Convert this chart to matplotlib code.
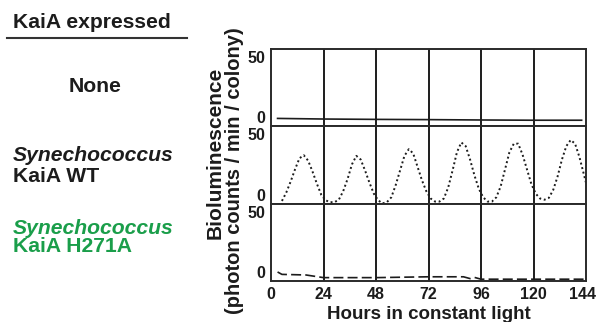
import numpy as np
import matplotlib
matplotlib.use("Agg")
import matplotlib.pyplot as plt
from matplotlib.transforms import ScaledTranslation

plt.rcParams['font.family'] = ['Liberation Sans', 'DejaVu Sans']
plt.rcParams['font.weight'] = 'bold'

# hours in constant light
hours_none = [3, 24, 48, 72, 96, 120, 142]
lum_none = [-1.2, -1.7, -2.0, -2.2, -2.5, -2.7, -2.7]

hours_wt = [5, 7, 9, 11, 13, 15, 17, 19, 21, 23, 25, 27, 29, 31, 33, 35, 37, 39,
            41, 43, 45, 47, 49, 51, 53, 55, 57, 59, 61, 63, 65, 67, 69, 71, 73,
            75, 77, 79, 81, 83, 85, 87, 89, 91, 93, 95, 97, 99, 101, 103, 105,
            107, 109, 111, 113, 115, 117, 119, 121, 123, 125, 127, 129, 131,
            133, 135, 137, 139, 141, 143, 144]
lum_wt = [-5, 2, 11, 21, 30, 32.5, 28, 19, 9, 0, -4.5, -6, -6, -4, 3, 13, 25, 32,
          29, 20, 10, 1, -4.5, -7, -6, -2, 8, 20, 32, 37.5, 34, 23, 12, 3, -3,
          -5.5, -5.5, -3, 6, 20, 35, 43, 40, 29, 16, 5, -2, -5.5, -5.5, -2, 7,
          21, 35, 42, 42, 33, 21, 9, 1, -3, -4, -2.5, 4, 15,
          29, 40, 45, 42, 31, 17, 10]

hours_h271a = [3, 5, 16, 24, 48, 72, 88, 91, 93, 96, 120, 143]
lum_h271a = [0.0, -2.0, -2.5, -4.7, -4.7, -4.0, -4.0, -5.5, -4.5, -6.0, -6.0, -6.0]

day_lines = [24, 48, 72, 96, 120]
x_ticks = [0, 24, 48, 72, 96, 120, 144]
y_ticks = [0, 50]

W, H = 597, 322
fig = plt.figure(figsize=(W / 100, H / 100), dpi=100)

ink = '#1c1c1c'
green = '#1a9e4a'

panels = [(49, 126), (126, 204), (204, 281)]
x0, x1 = 271, 586
axes = []
for top, bot in panels:
    ax = fig.add_axes([x0 / W, 1 - bot / H, (x1 - x0) / W, (bot - top) / H])
    ax.set_xlim(0, 144)
    ax.set_ylim(-7.5, 56.5)
    ax.set_yticks(y_ticks)
    ax.set_xticks(x_ticks)
    ax.tick_params(length=0, labelsize=11.5, pad=4, colors=ink)
    for s in ax.spines.values():
        s.set_linewidth(1.4)
        s.set_color('#2a2a2a')
    for d in day_lines:
        ax.axvline(d, color=ink, lw=1.4)
    axes.append(ax)

for ax in axes[:2]:
    ax.tick_params(labelbottom=False)

axes[0].plot(hours_none, lum_none, color=ink, lw=1.2)
axes[1].plot(hours_wt, lum_wt, color=ink, lw=1.4, linestyle=(0, (1, 1.4)))
axes[2].plot(hours_h271a, lum_h271a, color=ink, lw=1.2, linestyle=(0, (6, 2.5)))

for ax in axes:
    for lab in ax.get_xticklabels() + ax.get_yticklabels():
        lab.set_fontweight('bold')

# keep the last hour label inside the figure edge
last = axes[2].get_xticklabels()[-1]
last.set_transform(last.get_transform() + ScaledTranslation(-4 / 100, 0, fig.dpi_scale_trans))

axes[2].set_xlabel('Hours in constant light', fontsize=13.5, fontweight='bold',
                   color=ink, labelpad=3)

fig.text(215 / W, 1 - 153 / H, 'Bioluminescence', rotation=90, fontsize=15,
         fontweight='bold', color=ink, ha='center', va='center')
fig.text(235 / W, 1 - 171 / H, '(photon counts / min / colony)', rotation=90,
         fontsize=14.5, fontweight='bold', color=ink, ha='center', va='center')

# left-hand labels
fs = 15.2
fig.text(13 / W, 1 - 22 / H, 'KaiA expressed', fontsize=fs, fontweight='bold',
         color=ink, ha='left', va='center')
fig.add_artist(plt.Line2D([7 / W, 187 / W], [1 - 38 / H, 1 - 38 / H],
                          color='#333333', lw=1.5))
fig.text(95 / W, 1 - 87 / H, 'None', fontsize=fs, fontweight='bold',
         color=ink, ha='center', va='center')
fig.text(13 / W, 1 - 155 / H, 'Synechococcus', fontsize=fs, fontweight='bold',
         style='italic', color=ink, ha='left', va='center')
fig.text(13 / W, 1 - 176 / H, 'KaiA WT', fontsize=fs, fontweight='bold',
         color=ink, ha='left', va='center')
fig.text(13 / W, 1 - 229 / H, 'Synechococcus', fontsize=fs, fontweight='bold',
         style='italic', color=green, ha='left', va='center')
fig.text(13 / W, 1 - 247 / H, 'KaiA H271A', fontsize=fs, fontweight='bold',
         color=green, ha='left', va='center')

fig.savefig('out.png', dpi=100)
